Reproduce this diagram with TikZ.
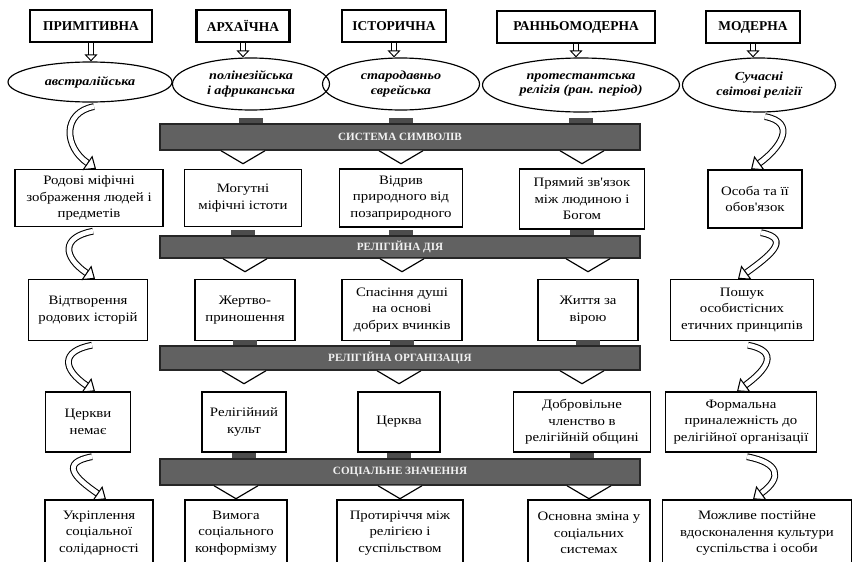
\documentclass[tikz,border=0pt]{standalone}
\usepackage{fontspec}
\setmainfont{Liberation Serif}
\newfontfamily\widefont[FakeStretch=1.15]{Liberation Serif}
\usetikzlibrary{arrows.meta,calc,positioning,shapes.geometric}
\tikzset{
  wd/.style={minimum width=#1*0.03cm},
  ht/.style={minimum height=#1*0.03cm},
  era/.style={draw, line width=1.8pt, minimum height=0.96cm, inner sep=2pt,
    font=\fontsize{11.5}{13}\selectfont\bfseries},
  kind/.style={draw, ellipse, line width=1pt, inner sep=0pt, align=center,
    font=\widefont\fontsize{10.5}{12.5}\selectfont\bfseries\itshape},
  band/.style={draw=black!85, line width=1.2pt, fill=black!62, wd=480,
    text=black!5, font=\fontsize{9.5}{10}\selectfont\bfseries},
  box/.style={draw, line width=1.2pt, align=center, inner sep=2pt,
    font=\widefont\fontsize{11}{14}\selectfont},
  hollow/.style={double=white, double distance=3pt, line width=0.8pt,
    -{Triangle[open, length=6pt, width=11pt]}},
  curv/.style={double=white, double distance=4pt, line width=0.9pt,
    -{Triangle[open, length=9pt, width=15pt]}},
  chev/.style={draw, line width=1pt, fill=white},
  tab/.style={fill=black!70},
}
\begin{document}
\begin{tikzpicture}[x=0.03cm, y=-0.03cm]
\useasboundingbox (0,0) rectangle (852,561);
% Types of religion
\node[era, wd=122] (h1) at (91,26)  {ПРИМІТИВНА};
\node[era, wd=93]  (h2) at (243,26) {АРХАЇЧНА};
\node[era, wd=104] (h3) at (394,26) {ІСТОРИЧНА};
\node[era, wd=158] (h4) at (576,27) {РАННЬОМОДЕРНА};
\node[era, wd=94]  (h5) at (753,27) {МОДЕРНА};
% Examples of each type
\node[kind, wd=164, ht=40] (e1) at (90,82)  {австралійська};
\node[kind, wd=157, ht=52] (e2) at (251,84) {полінезійська\\і африканська};
\node[kind, wd=157, ht=52] (e3) at (401,84) {стародавньо\\єврейська};
\node[kind, wd=197, ht=54] (e4) at (581,85) {протестантська\\релігія (ран. період)};
\node[kind, wd=153, ht=54] (e5) at (759,85) {Сучасні\\світові релігії};
% Grey bands
\node[band, ht=26] (b1) at (400,137) {СИСТЕМА СИМВОЛІВ};
\node[band, ht=22] (b2) at (400,247) {РЕЛІГІЙНА ДІЯ};
\node[band, ht=24] (b3) at (400,358) {РЕЛІГІЙНА ОРГАНІЗАЦІЯ};
\node[band, ht=26] (b4) at (400,472) {СОЦІАЛЬНЕ ЗНАЧЕННЯ};
% Row 1
\node[box, wd=148, ht=57] (r11) at (89,198)  {Родові міфічні\\зображення людей і\\предметів};
\node[box, wd=117, ht=57] (r12) at (243,198) {Могутні\\міфічні істоти};
\node[box, wd=123, ht=58] (r13) at (401,198) {Відрив\\природного від\\позаприродного};
\node[box, wd=125, ht=60] (r14) at (582,199) {Прямий зв'язок\\між людиною і\\Богом};
\node[box, wd=94, ht=58]  (r15) at (755,199) {Особа та її\\обов'язок};
% Row 2
\node[box, wd=119, ht=61] (r21) at (88,310)  {Відтворення\\родових історій};
\node[box, wd=100, ht=61] (r22) at (245,310) {Жертво-\\приношення};
\node[box, wd=120, ht=61] (r23) at (402,310) {Спасіння душі\\на основі\\добрих вчинків};
\node[box, wd=100, ht=61] (r24) at (588,310) {Життя за\\вірою};
\node[box, wd=143, ht=61] (r25) at (742,310) {Пошук\\особистісних\\етичних принципів};
% Row 3
\node[box, wd=85, ht=60]  (r31) at (88,422)  {Церкви\\немає};
\node[box, wd=84, ht=60]  (r32) at (244,422) {Релігійний\\культ};
\node[box, wd=82, ht=60]  (r33) at (399,422) {Церква};
\node[box, wd=137, ht=60] (r34) at (582,422) {Добровільне\\членство в\\релігійній общині};
\node[box, wd=151, ht=60] (r35) at (741,422) {Формальна\\приналежність до\\релігійної організації};
% Row 4
\node[box, wd=108, ht=66] (r41) at (99,533)  {Укріплення\\соціальної\\солідарності};
\node[box, wd=102, ht=66] (r42) at (236,533) {Вимога\\соціального\\конформізму};
\node[box, wd=126, ht=66] (r43) at (400,533) {Протиріччя між\\релігією і\\суспільством};
\node[box, wd=122, ht=66] (r44) at (589,533) {Основна зміна у\\соціальних\\системах};
\node[box, wd=189, ht=66] (r45) at (757,533) {Можливе постійне\\вдосконалення культури\\суспільства і особи};
% Header arrows
\foreach \i in {1,...,5}
  \draw[hollow] (h\i.south) -- (h\i.south |- e\i.north);
% Tabs above and chevrons below the bands
\foreach \b/\up/\dn in {b1/e/r1, b2/r1/r2, b3/r2/r3, b4/r3/r4} {
  \foreach \c in {2,3,4} {
    \fill[tab] ($(\b.north -| \up\c.south)+(-12,0)$) rectangle ++(24,-5);
    \filldraw[chev] ($(\b.south -| \dn\c.north)+(-22,0)$) -- ++(22,13) -- ++(22,-13);
  }
}
% Curved arrows, left and right columns
\foreach \a/\z in {e1/r11, r11/r21, r21/r31, r31/r41}
  \draw[curv] ($(\a.south)+(4,4)$) .. controls +(-32,6) and +(-32,-22) .. ($(\z.north)+(7,0)$);
\foreach \a/\z in {e5/r15, r15/r25, r25/r35, r35/r45}
  \draw[curv] ($(\a.south)+(6,4)$) .. controls +(32,6) and +(30,-22) .. ($(\z.north)+(-4,0)$);
\end{tikzpicture}
\end{document}
